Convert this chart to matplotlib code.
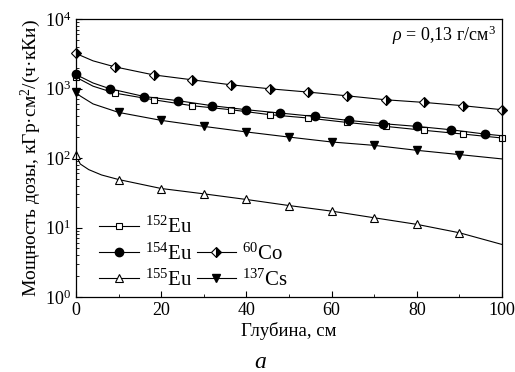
import matplotlib
matplotlib.use('Agg')
import matplotlib.pyplot as plt
from matplotlib.lines import Line2D
from matplotlib.ticker import LogLocator, MultipleLocator, NullFormatter

plt.rcParams['font.family'] = ['Liberation Serif', 'DejaVu Serif']
plt.rcParams['mathtext.fontset'] = 'custom'
plt.rcParams['mathtext.rm'] = 'Liberation Serif'
plt.rcParams['mathtext.it'] = 'Liberation Serif:italic'

# dose rate vs depth, rho = 0.13 g/cm3
depth_eu152 = [0, 1, 4, 9.1, 18.2, 27.3, 36.4, 45.5, 54.5, 63.6, 72.7, 81.8, 90.9, 100]
dose_eu152 = [1456, 1350, 1080, 859, 689, 565, 495, 420, 376, 325, 285, 250, 221, 194]
marks_eu152 = [0, 3, 4, 5, 6, 7, 8, 9, 10, 11, 12, 13]

depth_eu154 = [0, 1, 4, 8, 16, 24, 32, 40, 48, 56, 64, 72, 80, 88, 96, 100]
dose_eu154 = [1625, 1480, 1200, 990, 767, 667, 565, 495, 443, 396, 347, 312, 285, 255, 221, 209]
marks_eu154 = [0, 3, 4, 5, 6, 7, 8, 9, 10, 11, 12, 13, 14]

depth_eu155 = [0, 1, 3, 6, 10, 20, 30, 40, 50, 60, 70, 80, 90, 100]
dose_eu155 = [110, 82, 68, 57, 49, 36.4, 30.5, 25.3, 20.7, 17.2, 13.8, 11.1, 8.4, 5.7]
marks_eu155 = [0, 4, 5, 6, 7, 8, 9, 10, 11, 12]

depth_co60 = [0, 1, 4, 9.1, 18.2, 27.3, 36.4, 45.5, 54.5, 63.6, 72.7, 81.8, 90.9, 100]
dose_co60 = [3250, 3000, 2500, 2050, 1570, 1333, 1130, 990, 888, 785, 688, 630, 565, 495]
marks_co60 = [0, 3, 4, 5, 6, 7, 8, 9, 10, 11, 12, 13]

depth_cs137 = [0, 1, 4, 10, 20, 30, 40, 50, 60, 70, 80, 90, 100]
dose_cs137 = [880, 780, 600, 453, 348, 285, 237, 200, 170, 152, 129, 112, 97]
marks_cs137 = [0, 3, 4, 5, 6, 7, 8, 9, 10, 11]

fig = plt.figure(figsize=(5.15, 3.72), dpi=100)
ax = fig.add_axes([76 / 515, 75 / 372, 426 / 515, 278 / 372])

ms = 6
lw = 0.8
common = dict(color='black', lw=lw, mec='black', clip_on=False)
l152, = ax.plot(depth_eu152, dose_eu152, marker='s', ms=ms - 1, mfc='white', mew=0.8,
                markevery=marks_eu152, **common)
l154, = ax.plot(depth_eu154, dose_eu154, marker='o', ms=ms, mfc='black',
                markevery=marks_eu154, **common)
l155, = ax.plot(depth_eu155, dose_eu155, marker='^', ms=ms, mfc='white', mew=0.8,
                markevery=marks_eu155, **common)
lco, = ax.plot(depth_co60, dose_co60, marker='D', ms=ms - 0.5, fillstyle='right',
               mfc='black', mfcalt='white', mew=0.8, markevery=marks_co60, **common)
lcs, = ax.plot(depth_cs137, dose_cs137, marker='v', ms=ms, mfc='black',
               markevery=marks_cs137, **common)

ax.set_yscale('log')
ax.set_xlim(0, 100)
ax.set_ylim(1, 1e4)
ax.xaxis.set_major_locator(MultipleLocator(20))
ax.xaxis.set_minor_locator(MultipleLocator(10))
ax.yaxis.set_major_locator(LogLocator(base=10, numticks=10))
ax.yaxis.set_minor_locator(LogLocator(base=10, subs=range(2, 10), numticks=10))
ax.yaxis.set_minor_formatter(NullFormatter())
ax.tick_params(which='both', direction='in', top=False, right=False, labelsize=13)
ax.tick_params(which='major', length=4, width=0.8)
ax.tick_params(which='minor', length=2.5, width=0.6)
for s in ax.spines.values():
    s.set_linewidth(0.9)

ax.set_xlabel('Глубина, см', fontsize=13.5, labelpad=2)
ax.set_ylabel('Мощность дозы, кГр·см$^2$/(ч·кКи)', fontsize=14, labelpad=1)

ax.text(0.985, 0.94, r'$\rho$ = 0,13 г/см$^3$', transform=ax.transAxes,
        ha='right', va='center', fontsize=13)

blank = Line2D([], [], linestyle='none', marker='none')
ax.legend([l152, l154, l155, blank, lco, lcs],
          ['$^{152}$Eu', '$^{154}$Eu', '$^{155}$Eu', '', '$^{60}$Co', '$^{137}$Cs'],
          ncol=2, loc='lower left', bbox_to_anchor=(0.02, -0.03), frameon=False,
          fontsize=15, handlelength=1.9, handletextpad=0.3, columnspacing=0.2,
          labelspacing=0.25, borderaxespad=0.3)

fig.text(260 / 515, 1 - 362 / 372, 'а', ha='center', va='center', fontsize=17,
         style='italic')

fig.savefig('out.png', dpi=100)
